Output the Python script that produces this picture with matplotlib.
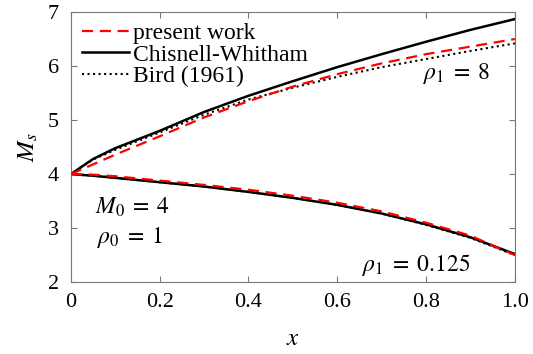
import matplotlib
matplotlib.use("Agg")
import matplotlib.pyplot as plt

plt.rcParams["font.family"] = "Liberation Serif"
plt.rcParams["mathtext.fontset"] = "stix"

# x-positions (fraction of tube length)
x = [0.0, 0.05, 0.1, 0.2, 0.3, 0.4, 0.5, 0.6, 0.7, 0.8, 0.9, 1.0]

# rho_1 = 8 branch
cw_hi = [4.0, 4.28, 4.48, 4.80, 5.15, 5.45, 5.72, 5.98, 6.22, 6.45, 6.67, 6.87]
bird_hi = [4.0, 4.27, 4.45, 4.77, 5.10, 5.38, 5.60, 5.80, 5.98, 6.13, 6.28, 6.42]
pw_hi = [4.0, 4.18, 4.36, 4.70, 5.05, 5.35, 5.62, 5.85, 6.05, 6.22, 6.36, 6.50]

# rho_1 = 0.125 branch
cw_lo = [4.0, 3.97, 3.93, 3.85, 3.77, 3.67, 3.56, 3.43, 3.27, 3.07, 2.83, 2.52]
bird_lo = [4.0, 3.97, 3.93, 3.85, 3.77, 3.67, 3.56, 3.43, 3.27, 3.06, 2.82, 2.50]
pw_lo = [4.0, 3.99, 3.96, 3.88, 3.80, 3.71, 3.60, 3.47, 3.31, 3.10, 2.86, 2.50]

fig = plt.figure(figsize=(5.33, 3.54), dpi=100)
ax = fig.add_axes([0.133, 0.203, 0.833, 0.763])

ax.plot(x, pw_hi, color="red", linestyle=(0, (5, 3)), linewidth=1.6, label="present work", zorder=3)
ax.plot(x, cw_hi, color="black", linewidth=1.8, label="Chisnell-Whitham")
ax.plot(x, bird_hi, color="black", linestyle=":", linewidth=1.5, label="Bird (1961)")

ax.plot(x, pw_lo, color="red", linestyle=(0, (5, 3)), linewidth=1.6, zorder=3)
ax.plot(x, cw_lo, color="black", linewidth=1.8)
ax.plot(x, bird_lo, color="black", linestyle=":", linewidth=1.5)

ax.set_xlim(0, 1)
ax.set_ylim(2, 7)
ax.set_xticks([0, 0.2, 0.4, 0.6, 0.8, 1.0])
ax.set_xticklabels(["0", "0.2", "0.4", "0.6", "0.8", "1.0"])
ax.set_yticks([2, 3, 4, 5, 6, 7])
ax.tick_params(direction="in", top=True, right=True, labelsize=16, length=4, color="#777777")
ax.tick_params(axis="x", pad=8)
ax.tick_params(axis="y", pad=8.5)
for s in ax.spines.values():
    s.set_color("#777777")

ax.set_xlabel(r"$x$", fontsize=18, labelpad=11)
ax.set_ylabel(r"$M_s$", fontsize=18, labelpad=6)

ax.text(0.944, 0.774, r"$\rho_1\;=\;8$", transform=ax.transAxes, fontsize=17, ha="right", va="center")
ax.text(0.899, 0.063, r"$\rho_1\;=\;0.125$", transform=ax.transAxes, fontsize=17, ha="right", va="center")
ax.text(0.054, 0.278, r"$M_0\;=\;4$", transform=ax.transAxes, fontsize=17, ha="left", va="center")
ax.text(0.059, 0.167, r"$\rho_0\;=\;1$", transform=ax.transAxes, fontsize=17, ha="left", va="center")

ax.legend(loc="upper left", frameon=False, fontsize=17, handlelength=2.0, handletextpad=0.2,
          labelspacing=0.0, borderaxespad=0.25, borderpad=0.2)

plt.savefig("out.png", dpi=100)
